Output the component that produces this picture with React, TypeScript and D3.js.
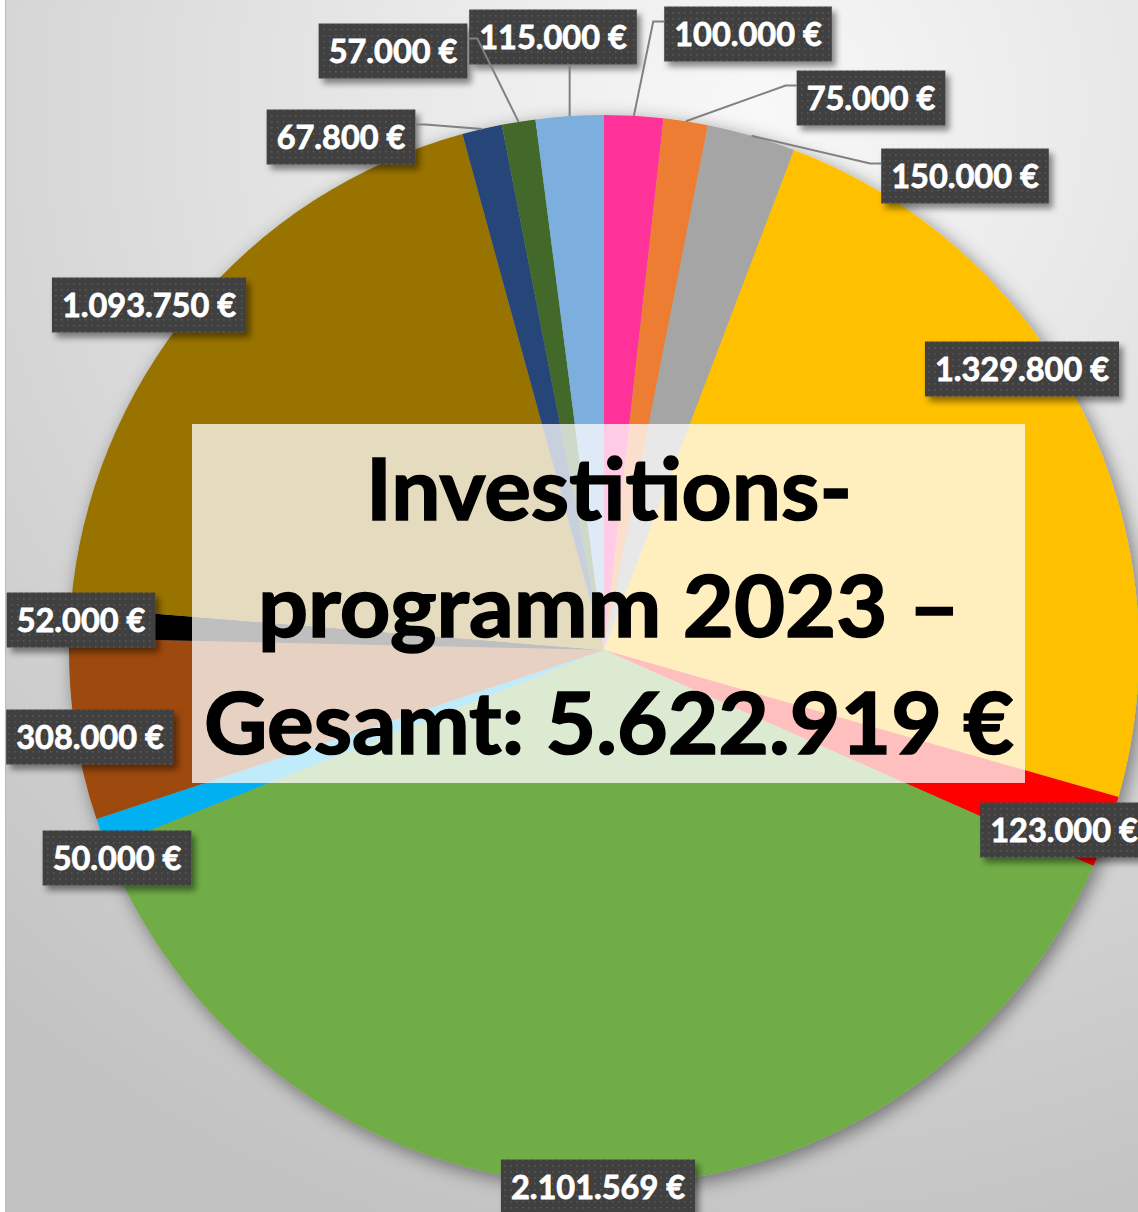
import React, { useRef, useEffect } from 'react';
import * as d3 from 'd3';

// Investitionsprogramm 2023, clockwise from 12 o'clock
const categories = ['A', 'B', 'C', 'D', 'E', 'F', 'G', 'H', 'I', 'J', 'K', 'L', 'M'];
const values = [100000, 75000, 150000, 1329800, 123000, 2101569, 50000, 308000, 52000, 1093750, 67800, 57000, 115000];
const colors = ['#FF3399', '#ED7D31', '#A5A5A5', '#FFC000', '#FF0000', '#70AD47', '#00B0F0', '#9E480E', '#000000', '#997300', '#264478', '#43682B', '#7CAFDD'];
const titleLines = ['Investitions-', 'programm 2023 –', 'Gesamt: 5.622.919 €'];

// label box centres and leader style (layout only)
const labelPos: [number, number][] = [
    [748, 34], [871, 98], [965, 176], [1022, 369], [1064, 830], [598, 1187], [117, 858],
    [90, 737], [81, 620], [149, 305], [341, 137], [393, 51], [553, 37]
];
const leaders = ['left', 'left', 'left', '', '', '', '', '', '', '', 'right', 'right', 'bottom'];

const W = 1138;
const H = 1212;

export default function App() {
    const ref = useRef(null);

    useEffect(() => {
        if (!ref.current) return;
        const svg = d3.select(ref.current);
        svg.selectAll('*').remove();

        const cx = 604, cy = 650, r = 535;
        const de = d3.formatLocale({ decimal: ',', thousands: '.', grouping: [3], currency: ['', ' €'] });
        const fmt = (v: number) => de.format(',.0f')(v) + ' €';

        const defs = svg.append('defs');
        const bg = defs.append('radialGradient').attr('id', 'bg')
            .attr('gradientUnits', 'userSpaceOnUse')
            .attr('cx', 760).attr('cy', 110).attr('r', 1180);
        bg.append('stop').attr('offset', 0).attr('stop-color', '#f8f8f8');
        bg.append('stop').attr('offset', 0.35).attr('stop-color', '#e6e6e6');
        bg.append('stop').attr('offset', 1).attr('stop-color', '#c2c2c2');

        const pieShadow = defs.append('filter').attr('id', 'pieShadow')
            .attr('x', '-10%').attr('y', '-10%').attr('width', '120%').attr('height', '120%');
        pieShadow.append('feDropShadow').attr('dx', 4).attr('dy', 5).attr('stdDeviation', 9)
            .attr('flood-color', '#000').attr('flood-opacity', 0.45);

        const boxShadow = defs.append('filter').attr('id', 'boxShadow')
            .attr('x', '-20%').attr('y', '-30%').attr('width', '140%').attr('height', '170%');
        boxShadow.append('feDropShadow').attr('dx', 4).attr('dy', 5).attr('stdDeviation', 3)
            .attr('flood-color', '#000').attr('flood-opacity', 0.45);

        const dots = defs.append('pattern').attr('id', 'dots')
            .attr('patternUnits', 'userSpaceOnUse').attr('width', 6).attr('height', 6);
        dots.append('rect').attr('width', 6).attr('height', 6).attr('fill', '#404040');
        dots.append('rect').attr('x', 2).attr('y', 2).attr('width', 1.6).attr('height', 1.6).attr('fill', '#585858');

        // background / chart area
        svg.append('rect').attr('width', W).attr('height', H).attr('fill', '#fff');
        svg.append('rect').attr('x', 5.5).attr('y', -2).attr('width', W + 10).attr('height', H + 10)
            .attr('fill', 'url(#bg)').attr('stroke', '#bdbdbd');

        // pie
        const pie = d3.pie<number>().sort(null).value(d => d);
        const arcs = pie(values);
        const arc = d3.arc<d3.PieArcDatum<number>>().innerRadius(0).outerRadius(r);

        const g = svg.append('g').attr('transform', `translate(${cx},${cy})`);
        g.append('g').attr('filter', 'url(#pieShadow)')
            .selectAll('path').data(arcs).enter()
            .append('path')
            .attr('d', arc)
            .attr('fill', (d, i) => colors[i]);

        // leader lines
        const edge = (d: d3.PieArcDatum<number>) => {
            const a = (d.startAngle + d.endAngle) / 2;
            return [cx + r * Math.sin(a), cy - r * Math.cos(a)];
        };
        const boxH = 55;

        // labels: measure first
        const labels = svg.append('g').attr('font-family', 'Lato, sans-serif')
            .attr('font-weight', 700).attr('font-size', 32.5);

        const widths = values.map(v => {
            const t = labels.append('text').text(fmt(v));
            const w = (t.node() as SVGTextElement).getComputedTextLength();
            t.remove();
            return w + 20;
        });

        const lineGen = d3.line();
        arcs.forEach((d, i) => {
            const type = leaders[i];
            if (!type) return;
            const [bx, by] = labelPos[i];
            const w = widths[i];
            const s = edge(d) as [number, number];
            let pts: [number, number][];
            if (type === 'bottom') {
                pts = [s, [s[0], by + boxH / 2]];
            } else if (type === 'left') {
                const ex = bx - w / 2, ey = by - boxH / 2 + 15;
                pts = [s, [ex - 11, ey], [ex, ey]];
            } else {
                const ex = bx + w / 2, ey = by - boxH / 2 + 15;
                pts = [s, [ex + 10, ey], [ex, ey]];
            }
            svg.append('path').attr('d', lineGen(pts))
                .attr('fill', 'none').attr('stroke', '#808080').attr('stroke-width', 2);
        });

        // title box
        svg.append('rect').attr('x', 192).attr('y', 424).attr('width', 833).attr('height', 359)
            .attr('fill', '#fff').attr('fill-opacity', 0.75);
        const tw = [486, 702, 810];
        titleLines.forEach((t, i) => {
            svg.append('text')
                .attr('x', 609).attr('y', 520 + i * 117)
                .attr('text-anchor', 'middle')
                .attr('font-family', 'Lato, sans-serif').attr('font-weight', 700)
                .attr('font-size', 86)
                .attr('textLength', tw[i]).attr('lengthAdjust', 'spacingAndGlyphs')
                .attr('fill', '#000')
                .attr('stroke', '#000').attr('stroke-width', 1.6)
                .text(t);
        });

        // data labels
        const lg = labels.selectAll('g.lbl').data(values).enter()
            .append('g').attr('class', 'lbl')
            .attr('transform', (d, i) => `translate(${labelPos[i][0]},${labelPos[i][1]})`);
        lg.append('rect')
            .attr('x', (d, i) => -widths[i] / 2).attr('y', -boxH / 2)
            .attr('width', (d, i) => widths[i]).attr('height', boxH)
            .attr('fill', 'url(#dots)').attr('filter', 'url(#boxShadow)');
        lg.append('text')
            .attr('text-anchor', 'middle').attr('dy', 11.5)
            .attr('fill', '#fff')
            .attr('stroke', '#fff').attr('stroke-width', 0.8)
            .text(d => fmt(d));
    }, []);

    return (
        <svg ref={ref} width={W} height={H} data-cats={categories.length}
            style={{ position: 'absolute', left: 0, top: 0, display: 'block' }} />
    );
}
